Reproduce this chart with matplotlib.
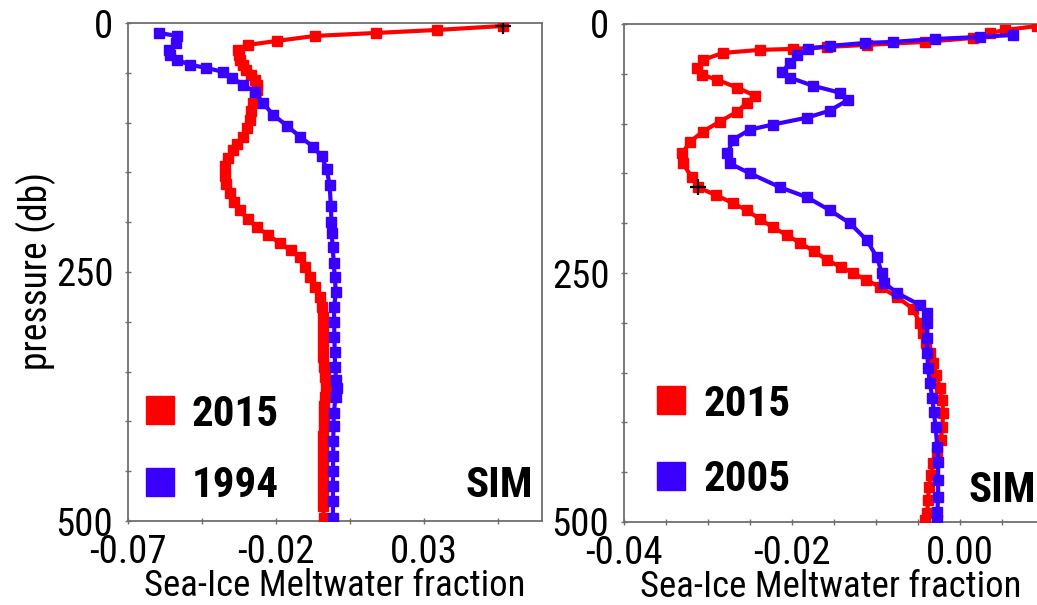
import numpy as np
import matplotlib
matplotlib.use('Agg')
import matplotlib.pyplot as plt
from matplotlib import font_manager as fm
from matplotlib.lines import Line2D
from matplotlib.ticker import MultipleLocator, FixedLocator

# pick a narrow font if there is one
names = {f.name for f in fm.fontManager.ttflist}
fam = 'DejaVu Sans'
for c in ['Liberation Sans Narrow', 'Roboto Condensed', 'Open Sans Condensed', 'DejaVu Sans']:
    if c in names:
        fam = c
        break
plt.rcParams['font.family'] = [fam, 'DejaVu Sans']
if fam == 'DejaVu Sans':
    plt.rcParams['font.stretch'] = 'condensed'

# left panel: 2015 vs 1994
p_left_2015 = [3, 7, 10, 13, 18, 22, 27, 32, 37, 42, 47, 52, 57, 62, 67, 73, 80, 88, 97, 105,
               114, 121, 128, 136, 144, 154, 162, 171, 180, 188, 197, 205, 213, 221, 228, 235, 245, 255, 265, 275,
               285, 295, 305, 315, 325, 335, 345, 355, 365, 375, 385, 395, 405, 415, 425, 435, 445, 455, 465, 475,
               485, 497]
f_left_2015 = [0.0567, 0.0344, 0.0138, -0.0068, -0.0197, -0.0294, -0.0328, -0.0325, -0.0322, -0.0310,
               -0.0300, -0.0285, -0.0271, -0.0265, -0.0265, -0.0270, -0.0278, -0.0283, -0.0288, -0.0298,
               -0.0311, -0.0330, -0.0345, -0.0362, -0.0372, -0.0373, -0.0368, -0.0355, -0.0340, -0.0322,
               -0.0295, -0.0265, -0.0225, -0.0187, -0.0150, -0.0119, -0.0100, -0.0085, -0.0068, -0.0051,
               -0.0043, -0.0040, -0.0039, -0.0039, -0.0039, -0.0039, -0.0038, -0.0035, -0.0032, -0.0034,
               -0.0036, -0.0037, -0.0038, -0.0039, -0.0039, -0.0040, -0.0040, -0.0041, -0.0041, -0.0040,
               -0.0039, -0.0038]
p_left_1994 = [10, 13, 20, 27, 32, 37, 42, 45, 49, 55, 62, 69, 80, 92, 103, 114, 124, 134, 147, 163,
               184, 200, 211, 225, 241, 255, 270, 285, 300, 315, 330, 345, 358, 366, 375, 392, 405, 420, 435, 450,
               465, 480, 497]
f_left_1994 = [-0.0595, -0.0534, -0.0538, -0.0561, -0.0558, -0.0534, -0.0490, -0.0436, -0.0379, -0.0348,
               -0.0311, -0.0271, -0.0244, -0.0210, -0.0163, -0.0119, -0.0075, -0.0045, -0.0028, -0.0018,
               -0.0014, -0.0012, -0.0011, -0.0008, -0.0004, -0.0001, 0.0003, -0.0003, -0.0003, -0.0002,
               -0.0001, 0.0000, 0.0004, 0.0006, 0.0002, -0.0004, -0.0005, -0.0006, -0.0006, -0.0007,
               -0.0007, -0.0007, -0.0007]
cross_left = (0.0567, 3)

# right panel: 2015 vs 2005
p_right_2015 = [2, 6, 9, 14, 18, 21, 23, 25, 26, 29, 36, 44, 51, 56, 64, 72, 79, 88, 98, 108,
                118, 130, 140, 154, 164, 172, 180, 187, 196, 204, 212, 220, 228, 237, 244, 250, 257, 264, 274, 286,
                300, 310, 320, 330, 340, 352, 365, 378, 391, 405, 418, 430, 441, 453, 465, 478, 491, 498]
f_right_2015 = [0.0092, 0.0054, 0.0036, 0.0016, -0.0042, -0.0111, -0.0158, -0.0199, -0.0238, -0.0282,
                -0.0306, -0.0313, -0.0307, -0.0289, -0.0265, -0.0244, -0.0254, -0.0265, -0.0286, -0.0306,
                -0.0321, -0.0331, -0.0330, -0.0319, -0.0312, -0.0290, -0.0270, -0.0254, -0.0238, -0.0223,
                -0.0206, -0.0190, -0.0174, -0.0158, -0.0142, -0.0127, -0.0112, -0.0095, -0.0075, -0.0056,
                -0.0048, -0.0044, -0.0040, -0.0036, -0.0032, -0.0028, -0.0024, -0.0021, -0.0020, -0.0021,
                -0.0023, -0.0027, -0.0032, -0.0035, -0.0037, -0.0038, -0.0039, -0.0042]
p_right_2005 = [11, 13, 15, 18, 19, 22, 25, 31, 39, 48, 54, 62, 69, 76, 87, 94, 101, 106, 116, 130,
                140, 150, 164, 174, 187, 200, 217, 234, 250, 260, 270, 282, 290, 300, 315, 330, 345, 360, 375, 390,
                405, 425, 440, 458, 475, 490, 498]
f_right_2005 = [0.0063, 0.0024, -0.0030, -0.0080, -0.0113, -0.0155, -0.0181, -0.0194, -0.0202, -0.0212,
                -0.0202, -0.0175, -0.0143, -0.0133, -0.0155, -0.0182, -0.0223, -0.0250, -0.0270, -0.0277,
                -0.0274, -0.0250, -0.0214, -0.0182, -0.0155, -0.0131, -0.0111, -0.0099, -0.0093, -0.0090,
                -0.0075, -0.0048, -0.0039, -0.0039, -0.0039, -0.0039, -0.0038, -0.0036, -0.0033, -0.0031,
                -0.0029, -0.0027, -0.0026, -0.0026, -0.0026, -0.0027, -0.0027]
cross_right = (-0.0312, 164)

RED = '#ff0000'
BLUE = '#3a00ff'
GRAY = '#6e6e6e'

W, H = 1037, 605
fig = plt.figure(figsize=(W / 100, H / 100), dpi=100)
axL = fig.add_axes([128 / W, 1 - 521 / H, (542 - 128) / W, (521 - 23) / H])
axR = fig.add_axes([624 / W, 1 - 522 / H, (1037 - 624) / W, (522 - 24) / H])


def draw_profile(ax, p, f, color):
    ax.plot(f, p, color=color, lw=3, marker='s', ms=6.5, mec=color, mfc=color, zorder=3)


def style(ax, xlim, xmajor, xminor):
    ax.set_xlim(*xlim)
    ax.set_ylim(500, 0)
    ax.xaxis.set_major_locator(FixedLocator(xmajor))
    ax.xaxis.set_minor_locator(FixedLocator(xminor))
    ax.yaxis.set_major_locator(MultipleLocator(250))
    ax.yaxis.set_minor_locator(MultipleLocator(50))
    for s in ax.spines.values():
        s.set_color(GRAY)
        s.set_linewidth(1.3)
    ax.tick_params(which='both', direction='inout', length=5, width=1, color=GRAY,
                   labelsize=28, labelcolor='black')
    ax.tick_params(axis='x', pad=7)
    ax.tick_params(axis='y', pad=8)
    ax.set_xlabel('Sea-Ice Meltwater fraction', fontsize=26.5, labelpad=-2)


# left panel
draw_profile(axL, p_left_2015, f_left_2015, RED)
draw_profile(axL, p_left_1994, f_left_1994, BLUE)
axL.plot(*cross_left, marker='+', color='black', ms=11, mew=1.6, zorder=5)
style(axL, (-0.07, 0.07), [-0.07, -0.02, 0.03], [-0.045, 0.005, 0.055])
axL.set_xticklabels(['-0.07', '-0.02', '0.03'])

# right panel
draw_profile(axR, p_right_2015, f_right_2015, RED)
draw_profile(axR, p_right_2005, f_right_2005, BLUE)
axR.plot(*cross_right, marker='+', color='black', ms=11, mew=1.6, zorder=5)
style(axR, (-0.04, 0.00917), [-0.04, -0.02, 0.00], np.arange(-0.035, 0.009, 0.005))
axR.set_xticklabels(['-0.04', '-0.02', '0.00'])
axR.spines['right'].set_visible(False)

fig.text(36 / W, 1 - 271 / H, 'pressure (db)', rotation=90, ha='center', va='center', fontsize=27)


def legend(ax, labels, x, y, spacing):
    handles = [Line2D([], [], ls='none', marker='s', ms=19.5, color=RED),
               Line2D([], [], ls='none', marker='s', ms=19.5, color=BLUE)]
    leg = ax.legend(handles, labels, loc='upper left', bbox_to_anchor=(x, y), frameon=False,
                    prop={'size': 31, 'weight': 'bold'}, handlelength=0.6, handletextpad=0.45,
                    labelspacing=spacing, borderpad=0, borderaxespad=0)
    return leg


legend(axL, ['2015', '1994'], 0.045, 0.256, 0.7)
legend(axR, ['2015', '2005'], 0.082, 0.278, 0.79)

fig.text(533 / W, 1 - 497 / H, 'SIM', fontsize=31, fontweight='bold', ha='right', va='baseline')
fig.text(968 / W, 1 - 502 / H, 'SIM', fontsize=31, fontweight='bold', ha='left', va='baseline')

fig.savefig('out.png', dpi=100)
